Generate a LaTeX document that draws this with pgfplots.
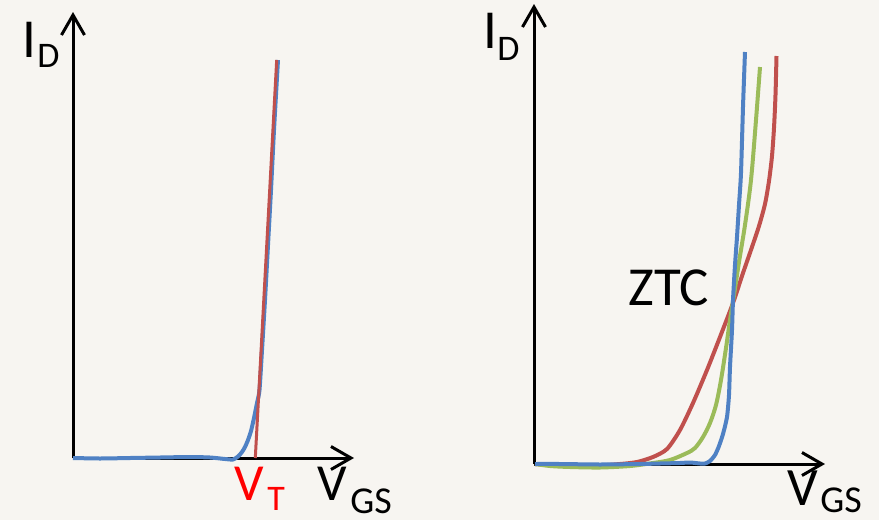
\documentclass[border=0pt]{standalone}
\usepackage{pgfplots}
\pgfplotsset{compat=1.18}
\usetikzlibrary{arrows.meta}
\usepackage{fontspec}
\setmainfont{Carlito}
\definecolor{bgc}{RGB}{247,245,241}
\definecolor{cblue}{RGB}{79,129,196}
\definecolor{cred}{RGB}{192,80,77}
\definecolor{cgreen}{RGB}{155,187,89}
\begin{document}
\begin{tikzpicture}
\begin{axis}[
  width=439.5pt, height=260pt, scale only axis,
  xmin=0, xmax=879, ymin=0, ymax=520, y dir=reverse,
  axis lines=none, clip=false,
  axis background/.style={fill=bgc},
]
\path[fill=bgc] (rel axis cs:0,0) rectangle (rel axis cs:1,1);
% axes with arrows
\addplot[black, line width=1.5pt, -{Straight Barb[length=10pt,width=11.5pt]}] coordinates {(73,458) (73,12)};
\addplot[black, line width=1.5pt, -{Straight Barb[length=10pt,width=11.5pt]}] coordinates {(73,458) (354,458)};
\addplot[black, line width=1.5pt, -{Straight Barb[length=10pt,width=11.5pt]}] coordinates {(534,464) (534,4)};
\addplot[black, line width=1.5pt, -{Straight Barb[length=10pt,width=11.5pt]}] coordinates {(534,464) (825,464)};
% left panel
\addplot[cblue, line width=2pt, smooth, tension=0.4] coordinates {
(73,458) (100,458.5) (130,458) (160,457.5) (190,457) (210,457.5) (225,459) (233,459.5)
(238,456.5) (242,452) (245,447) (248,440) (251,431) (254,418) (257,403) (259.5,390)
(262,350) (265,300) (268,245) (271,190) (274,130) (278,60)};
\addplot[cred, line width=1.5pt] coordinates {(255.3,458) (276.7,60)};
% right panel
\addplot[cred, line width=2pt, smooth, tension=0.45] coordinates {
(535,464) (560,465.5) (590,466) (620,464) (637,462) (653,457) (667,449) (680,430)
(693,403) (707,370) (720,337) (733,303) (743,273) (752,247) (759,226) (765,204)
(769,181) (772,156) (774,128) (775.5,95) (776.5,56)};
\addplot[cgreen, line width=2pt, smooth, tension=0.5] coordinates {
(535,464) (550,466) (570,467) (600,467.5) (630,466) (653,463) (670,460) (687,453)
(695,448) (703,437) (710,423) (716,405) (721,380) (726,348) (730,320) (734,295)
(739,262) (745,225) (751,180) (756,120) (760,67)};
\addplot[cblue, line width=2pt, smooth, tension=0.4] coordinates {
(535,464) (560,464) (600,464.5) (640,464) (660,463.5) (680,463) (690,462.5) (700,463.5)
(705,463.5) (710,461) (715,455) (719,446) (723,434) (727,417) (729,395) (730,367)
(732,330) (733,300) (735,265) (737,237) (739,205) (741,173) (743,107) (745,52)};
% labels
\node[anchor=base west, inner sep=0pt, font=\fontsize{27.5}{28}\selectfont] at (axis cs:22,57) {I};
\node[anchor=base west, inner sep=0pt, font=\fontsize{18}{18}\selectfont] at (axis cs:37,67) {D};
\node[anchor=base west, inner sep=0pt, font=\fontsize{27.5}{28}\selectfont] at (axis cs:483,48) {I};
\node[anchor=base west, inner sep=0pt, font=\fontsize{18}{18}\selectfont] at (axis cs:497,60) {D};
\node[anchor=base west, inner sep=0pt, text=red, font=\fontsize{26}{26}\selectfont] at (axis cs:234,500) {V};
\node[anchor=base west, inner sep=0pt, text=red, font=\fontsize{18}{18}\selectfont] at (axis cs:267,510) {T};
\node[anchor=base west, inner sep=0pt, font=\fontsize{26}{26}\selectfont] at (axis cs:317,500) {V};
\node[anchor=base west, inner sep=0pt, text depth=0pt, font=\fontsize{19}{19}\selectfont] at (axis cs:350,513) {GS};
\node[anchor=base west, inner sep=0pt, font=\fontsize{27}{27}\selectfont] at (axis cs:787,505) {V};
\node[anchor=base west, inner sep=0pt, text depth=0pt, font=\fontsize{19}{19}\selectfont] at (axis cs:820,512) {GS};
\node[anchor=base west, inner sep=0pt, font=\fontsize{27.5}{28}\selectfont] at (axis cs:628,305) {ZTC};
\end{axis}
\pgfresetboundingbox
\path (current axis.south west) rectangle (current axis.north east);
\end{tikzpicture}
\end{document}
